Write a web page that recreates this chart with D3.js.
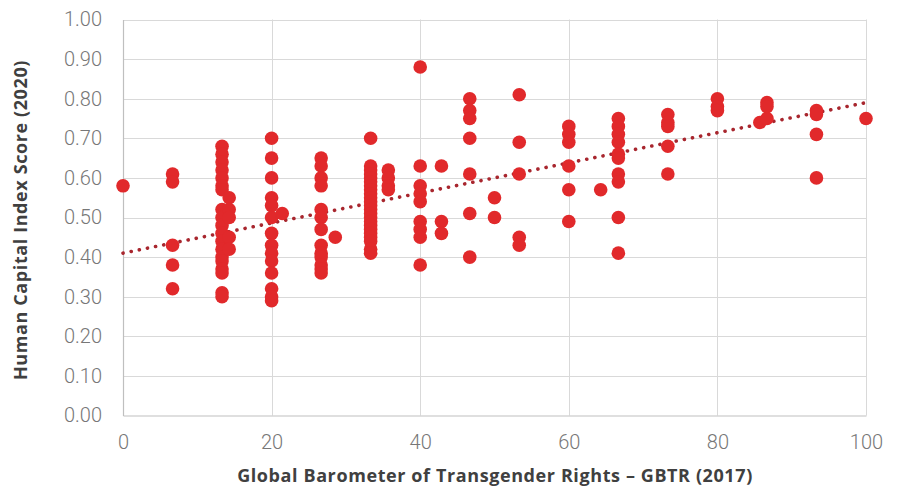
<!DOCTYPE html>
<html>
<head>
<meta charset="utf-8">
<script src="https://cdn.jsdelivr.net/npm/d3@7"></script>
<style>
  html, body { margin: 0; padding: 0; background: #ffffff; }
  svg { display: block; }
  .tick-label { font-family: Roboto, "Liberation Sans", sans-serif; font-weight: 300; fill: #777777; }
  .axis-title { font-family: "Open Sans", "Liberation Sans", Arial, sans-serif; font-weight: 700; fill: #404040; letter-spacing: 0.6px; }
</style>
</head>
<body>
<svg id="chart" width="903" height="488"></svg>
<script>
// GBTR score levels (x) and the HCI scores of the countries at each level (y)
const gbtrLevels = [0, 6.67, 13.33, 14.29, 20, 21.43, 26.67, 28.57, 33.33, 35.71, 40, 42.86,
  46.67, 50, 53.33, 60, 64.29, 66.67, 73.33, 80, 85.71, 86.67, 93.33, 100];
const hciByLevel = [
  [0.58],
  [0.61, 0.59, 0.43, 0.38, 0.32],
  [0.68, 0.66, 0.64, 0.62, 0.60, 0.58, 0.57, 0.52, 0.50, 0.48, 0.46, 0.44, 0.42, 0.40, 0.39, 0.37, 0.36, 0.31, 0.30],
  [0.55, 0.52, 0.50, 0.45, 0.42],
  [0.70, 0.65, 0.60, 0.55, 0.53, 0.50, 0.46, 0.43, 0.41, 0.39, 0.36, 0.32, 0.30, 0.29],
  [0.51],
  [0.65, 0.63, 0.60, 0.58, 0.52, 0.50, 0.47, 0.43, 0.41, 0.40, 0.38, 0.37, 0.36],
  [0.45],
  [0.70, 0.63, 0.62, 0.61, 0.60, 0.59, 0.58, 0.57, 0.56, 0.55, 0.54, 0.53, 0.52, 0.51, 0.50, 0.49, 0.48, 0.47, 0.46, 0.45, 0.44, 0.42, 0.41],
  [0.62, 0.60, 0.58, 0.57],
  [0.88, 0.63, 0.58, 0.56, 0.54, 0.49, 0.47, 0.45, 0.38],
  [0.63, 0.49, 0.46],
  [0.80, 0.77, 0.75, 0.70, 0.61, 0.51, 0.40],
  [0.55, 0.50],
  [0.81, 0.69, 0.61, 0.45, 0.43],
  [0.73, 0.71, 0.69, 0.63, 0.57, 0.49],
  [0.57],
  [0.75, 0.73, 0.71, 0.69, 0.66, 0.65, 0.61, 0.59, 0.50, 0.41],
  [0.76, 0.74, 0.73, 0.68, 0.61],
  [0.80, 0.78, 0.77],
  [0.74],
  [0.79, 0.78, 0.75],
  [0.77, 0.76, 0.71, 0.60],
  [0.75]
];
// Linear trend line (value at GBTR 0, value at GBTR 100)
const trendEnds = [[0, 0.41], [100, 0.79]];

const xTicks = [0, 20, 40, 60, 80, 100];
const yTicks = [0, 0.1, 0.2, 0.3, 0.4, 0.5, 0.6, 0.7, 0.8, 0.9, 1.0];
const xTitle = "Global Barometer of Transgender Rights – GBTR (2017)";
const yTitle = "Human Capital Index Score (2020)";

const points = [];
gbtrLevels.forEach((g, i) => hciByLevel[i].forEach(v => points.push({ x: g, y: v })));

const svg = d3.select("#chart");
const x = d3.scaleLinear().domain([0, 100]).range([123, 866]);
const y = d3.scaleLinear().domain([0, 1]).range([415.5, 19.5]);

// Gridlines
const grid = svg.append("g").attr("stroke", "#d9d9d9").attr("stroke-width", 1);
grid.selectAll("line.h").data(yTicks.slice(1)).join("line")
  .attr("x1", x(0)).attr("x2", x(100))
  .attr("y1", d => Math.round(y(d)) + 0.5).attr("y2", d => Math.round(y(d)) + 0.5);
grid.selectAll("line.v").data(xTicks.slice(1)).join("line")
  .attr("x1", d => Math.round(x(d)) + 0.5).attr("x2", d => Math.round(x(d)) + 0.5)
  .attr("y1", y(0)).attr("y2", y(1));

// Axes
const yAxis = svg.append("g").attr("transform", `translate(${x(0)},0)`)
  .call(d3.axisLeft(y).tickValues(yTicks).tickFormat(d3.format(".2f")).tickSize(0).tickPadding(21));
const xAxis = svg.append("g").attr("transform", `translate(0,${y(0)})`)
  .call(d3.axisBottom(x).tickValues(xTicks).tickFormat(d3.format("d")).tickSize(0).tickPadding(19));
[yAxis, xAxis].forEach(a => {
  a.select(".domain").attr("stroke", "#bfbfbf").attr("stroke-width", 1.2);
  a.selectAll("text").attr("class", "tick-label").style("font-size", "20px");
});

// Trend line
svg.append("line")
  .attr("x1", x(trendEnds[0][0])).attr("y1", y(trendEnds[0][1]))
  .attr("x2", x(trendEnds[1][0])).attr("y2", y(trendEnds[1][1]))
  .attr("stroke", "#a8262e").attr("stroke-width", 3.6)
  .attr("stroke-linecap", "round").attr("stroke-dasharray", "0.1 8.2");

// Points
svg.append("g").selectAll("circle").data(points).join("circle")
  .attr("cx", d => x(d.x)).attr("cy", d => y(d.y)).attr("r", 6.8)
  .attr("fill", "#e1292b");

// Axis titles
svg.append("text").attr("class", "axis-title")
  .attr("x", 495).attr("y", 482).attr("text-anchor", "middle")
  .style("font-size", "18px").text(xTitle);
svg.append("text").attr("class", "axis-title")
  .attr("transform", "translate(27,220) rotate(-90)").attr("text-anchor", "middle")
  .style("font-size", "18px").text(yTitle);
</script>
</body>
</html>
